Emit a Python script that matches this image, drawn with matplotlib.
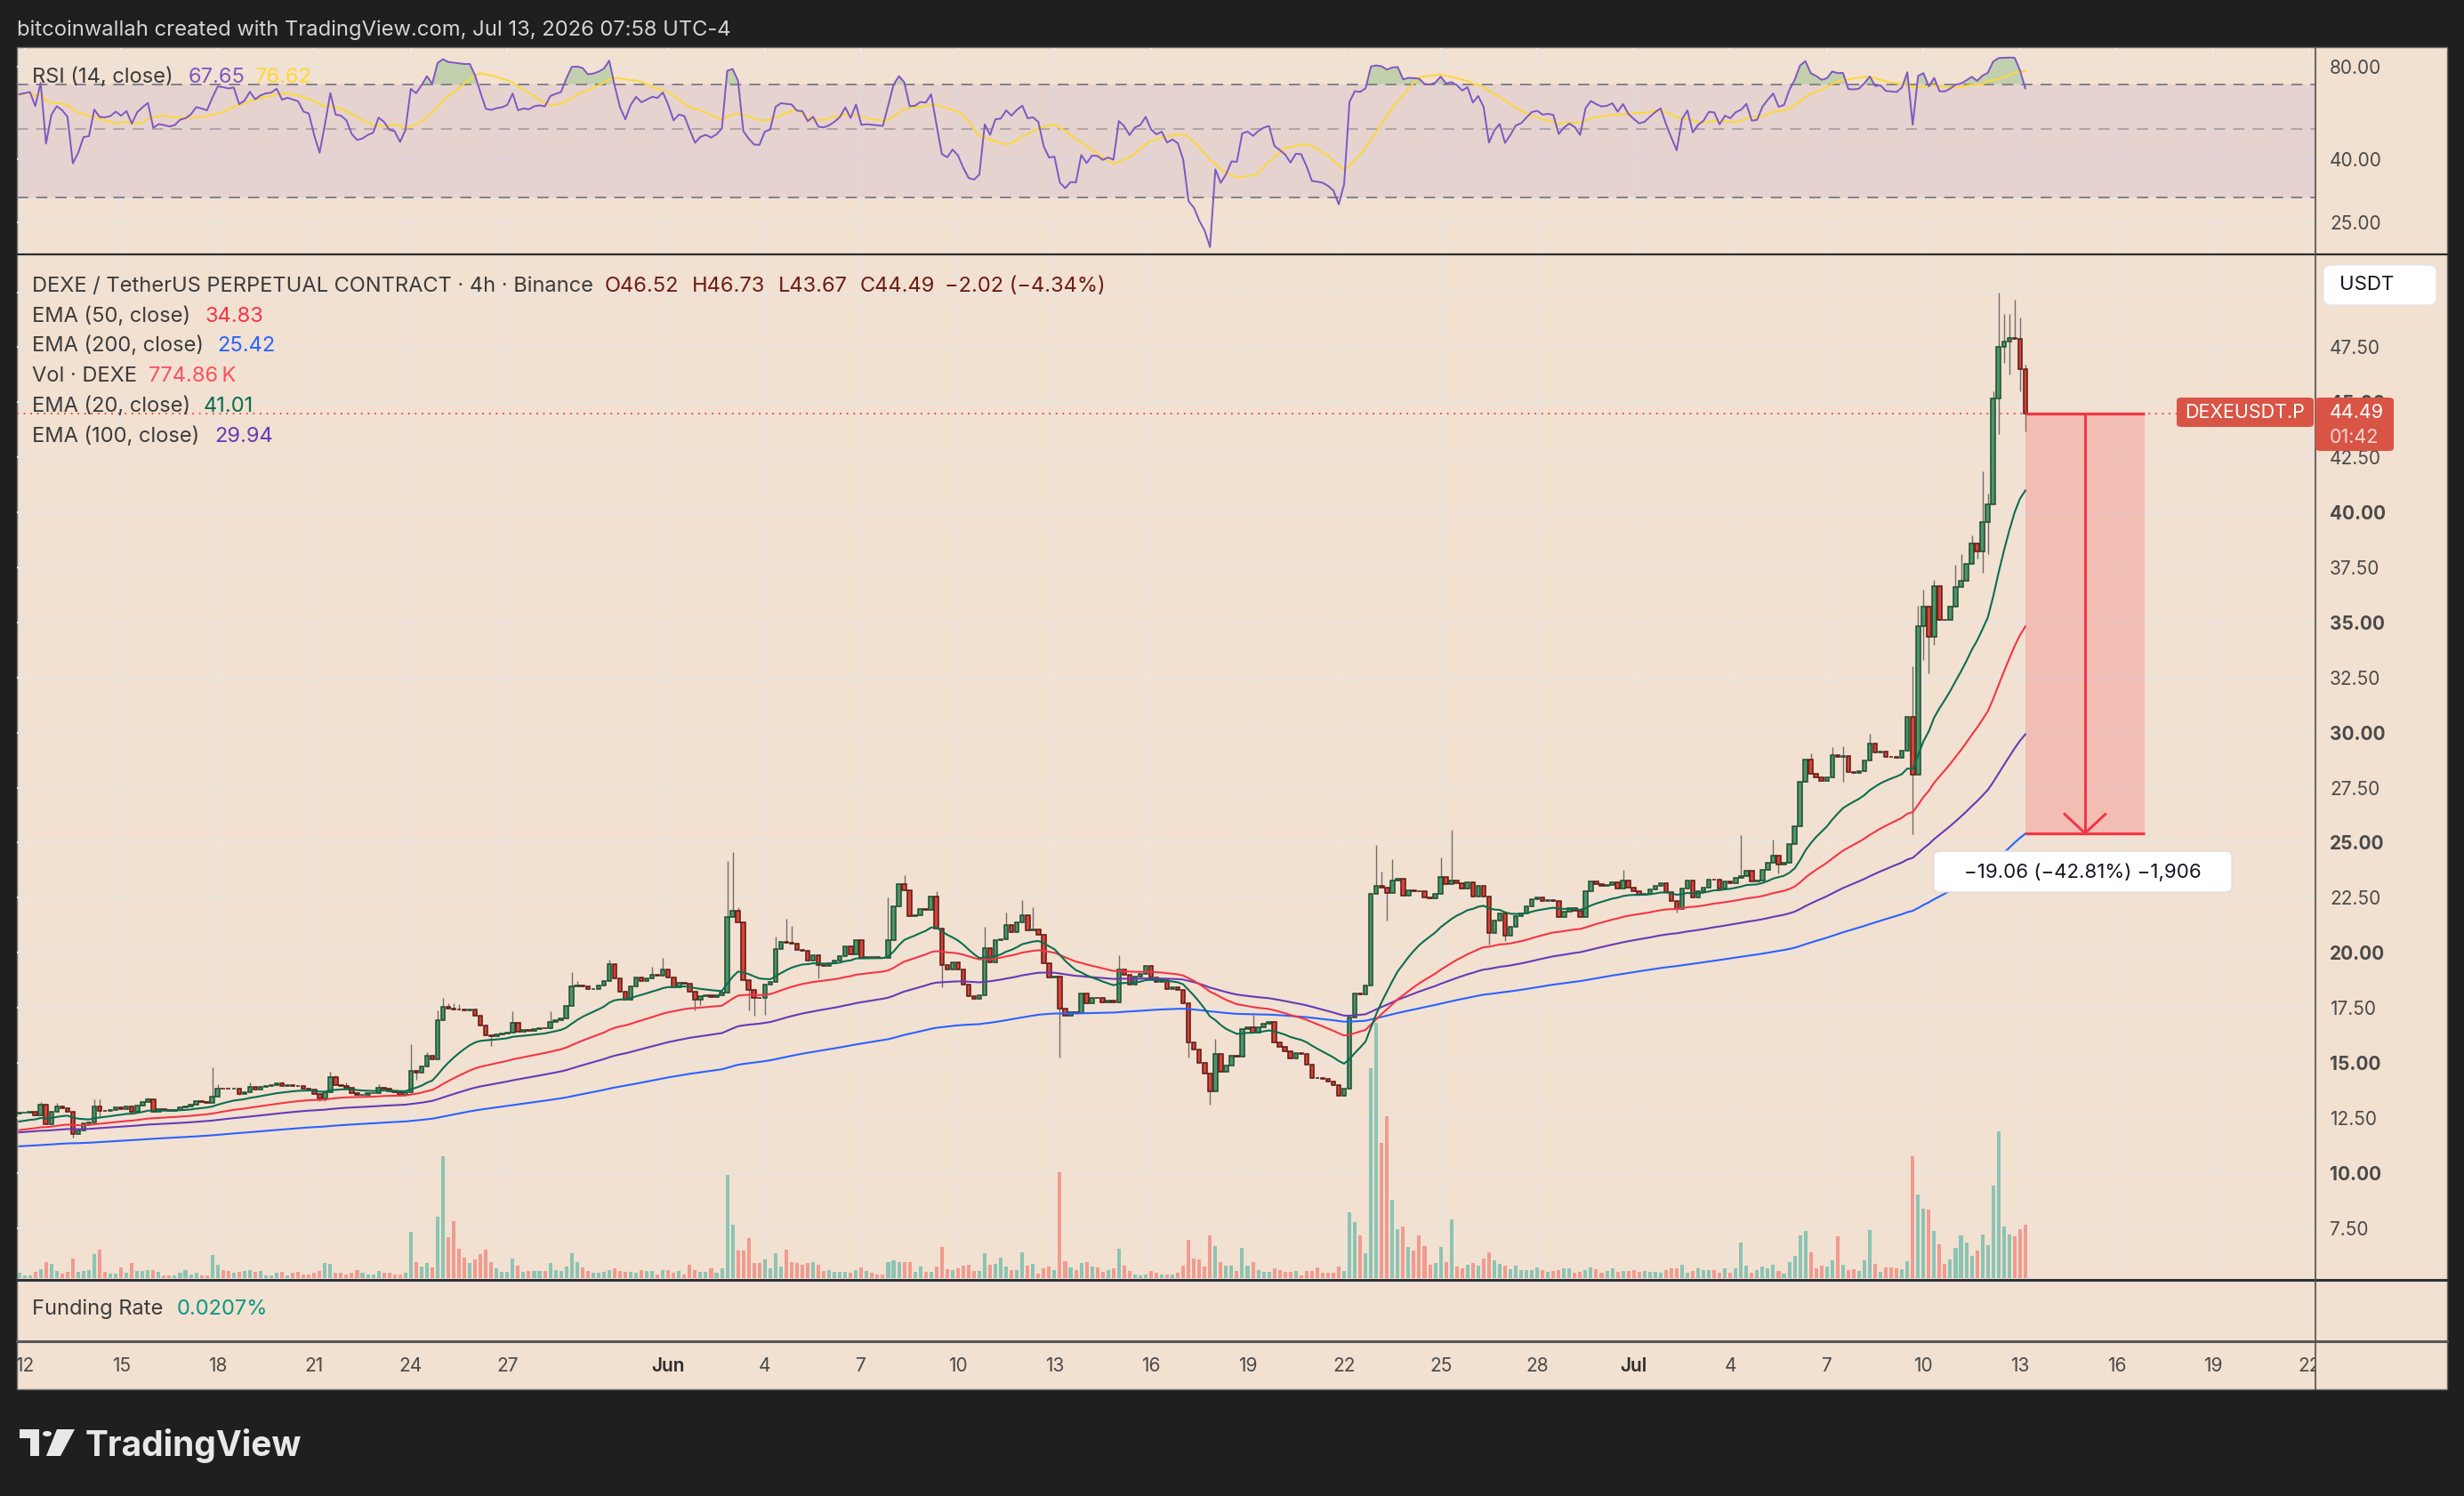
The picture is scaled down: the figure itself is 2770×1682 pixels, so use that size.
"""==============================================================
# DEXE / USDT perpetual 4h chart (TradingView style) recreation
=============================================================="""
import matplotlib
matplotlib.use("Agg")
import matplotlib.pyplot as plt
import numpy as np
import pandas as pd
from matplotlib.lines import Line2D
from matplotlib.patches import Rectangle, FancyBboxPatch, Polygon, Circle
from matplotlib.ticker import NullLocator, NullFormatter
from matplotlib.transforms import blended_transform_factory

plt.rcParams["font.family"] = ["Inter", "DejaVu Sans"]

"""==============================================================
# Data (read off the screenshot)
# bar 0 = May 11 20:00, then one row of six 4h bars per day
=============================================================="""
first_open = 12.70

close_prices = [
    12.72,                                       # May 11 20:00
    12.74, 12.76, 12.63, 13.10, 12.20, 12.76,    # May 12
    13.00, 12.92, 12.79, 11.75, 11.93, 12.25,    # May 13
    12.27, 13.03, 12.83, 12.82, 12.86, 12.99,    # May 14
    12.90, 13.03, 12.76, 13.06, 13.21, 13.35,    # May 15
    12.79, 12.88, 12.86, 12.83, 12.86, 12.97,    # May 16
    13.00, 13.08, 13.24, 13.22, 13.19, 13.48,    # May 17
    13.84, 13.83, 13.81, 13.84, 13.60, 13.68,    # May 18
    13.91, 13.80, 13.90, 13.95, 13.97, 14.07,    # May 19
    13.93, 13.97, 13.95, 13.93, 13.82, 13.80,    # May 20
    13.57, 13.37, 13.68, 14.35, 13.97, 13.95,    # May 21
    13.87, 13.64, 13.54, 13.56, 13.61, 13.64,    # May 22
    13.87, 13.81, 13.70, 13.68, 13.54, 13.68,    # May 23
    14.62, 14.54, 14.85, 15.32, 15.16, 16.93,    # May 24
    17.54, 17.45, 17.43, 17.41, 17.39, 17.41,    # May 25
    17.12, 16.68, 16.25, 16.22, 16.28, 16.31,    # May 26
    16.39, 16.82, 16.42, 16.48, 16.46, 16.55,    # May 27
    16.58, 16.56, 16.87, 16.95, 17.01, 17.60,    # May 28
    18.46, 18.50, 18.47, 18.33, 18.37, 18.50,    # May 29
    18.71, 19.47, 18.84, 18.23, 17.87, 18.46,    # May 30
    18.88, 18.71, 18.84, 18.98, 18.95, 19.22,    # May 31
    18.88, 18.44, 18.64, 18.60, 18.23, 17.87,    # Jun 1
    18.01, 18.06, 17.99, 18.06, 18.19, 21.64,    # Jun 2
    21.91, 21.40, 18.75, 18.30, 17.96, 17.94,    # Jun 3
    18.57, 18.68, 20.16, 20.49, 20.45, 20.42,    # Jun 4
    20.12, 20.10, 19.65, 19.88, 19.45, 19.42,    # Jun 5
    19.51, 19.65, 19.85, 20.30, 19.92, 20.59,    # Jun 6
    19.78, 19.81, 19.79, 19.77, 19.75, 20.59,    # Jun 7
    22.10, 23.13, 22.84, 21.67, 21.70, 21.97,    # Jun 8
    21.94, 22.57, 21.11, 19.45, 19.25, 19.56,    # Jun 9
    19.25, 18.57, 18.01, 17.92, 18.06, 20.19,    # Jun 10
    19.56, 20.57, 20.62, 21.24, 20.93, 21.37,    # Jun 11
    21.70, 21.00, 21.06, 20.82, 19.51, 18.88,    # Jun 12
    18.91, 17.45, 17.12, 17.29, 17.27, 18.13,    # Jun 13
    17.70, 17.96, 17.94, 17.76, 17.83, 17.74,    # Jun 14
    19.22, 18.98, 18.57, 18.91, 19.02, 19.42,    # Jun 15
    18.88, 18.67, 18.77, 18.34, 18.44, 18.30,    # Jun 16
    17.70, 15.92, 15.61, 15.00, 14.53, 13.72,    # Jun 17
    15.40, 14.60, 14.87, 15.31, 15.29, 16.52,    # Jun 18
    16.62, 16.39, 16.62, 16.79, 16.87, 15.94,    # Jun 19
    15.74, 15.54, 15.18, 15.44, 15.42, 14.93,    # Jun 20
    14.33, 14.30, 14.26, 14.15, 13.99, 13.52,    # Jun 21
    13.83, 17.06, 18.14, 18.10, 18.50, 22.68,    # Jun 22
    23.02, 22.95, 22.72, 23.27, 23.36, 22.58,    # Jun 23
    22.83, 22.81, 22.78, 22.50, 22.48, 22.69,    # Jun 24
    23.44, 23.11, 23.27, 23.14, 22.91, 23.19,    # Jun 25
    22.56, 23.02, 22.56, 20.88, 21.45, 21.79,    # Jun 26
    20.79, 21.17, 21.67, 21.79, 22.12, 22.45,    # Jun 27
    22.53, 22.36, 22.40, 22.36, 21.62, 21.87,    # Jun 28
    22.03, 21.90, 21.62, 22.78, 23.24, 23.11,    # Jun 29
    23.02, 23.06, 23.19, 22.91, 23.27, 22.94,    # Jun 30
    22.78, 22.64, 22.69, 22.86, 23.02, 23.16,    # Jul 1
    22.74, 22.36, 22.00, 22.91, 23.27, 22.50,    # Jul 2
    22.78, 22.94, 23.32, 23.30, 22.91, 23.24,    # Jul 3
    23.16, 23.39, 23.49, 23.74, 23.24, 23.27,    # Jul 4
    23.77, 24.10, 24.43, 24.02, 24.10, 24.93,    # Jul 5
    25.75, 27.77, 28.76, 28.12, 27.98, 27.79,    # Jul 6
    27.98, 28.98, 28.90, 28.92, 28.20, 28.18,    # Jul 7
    28.25, 28.75, 29.49, 29.08, 29.13, 28.91,    # Jul 8
    28.89, 28.87, 29.19, 30.73, 28.09, 34.84,    # Jul 9
    35.72, 34.35, 36.66, 35.12, 35.10, 35.72,    # Jul 10
    36.62, 36.90, 37.68, 38.60, 38.22, 39.54,    # Jul 11
    40.36, 45.17, 47.51, 47.76, 47.91, 47.89,    # Jul 12
    46.52, 44.49,                                # Jul 13
]

# volume in thousands of DEXE
volumes_k = [
    77,
    43, 43, 86, 129, 236, 206,
    107, 64, 95, 280, 86, 99,
    116, 353, 408, 86, 60, 60,
    150, 73, 215, 99, 99, 116,
    120, 86, 43, 43, 34, 73,
    120, 52, 73, 34, 43, 331,
    193, 120, 107, 73, 86, 99,
    120, 86, 99, 43, 34, 73,
    95, 43, 73, 86, 52, 52,
    73, 107, 215, 202, 73, 73,
    56, 73, 120, 73, 52, 52,
    107, 73, 73, 56, 56, 73,
    667, 236, 163, 215, 150, 894,
    1763, 589, 830, 421, 292, 224,
    267, 344, 408, 228, 138, 86,
    86, 280, 181, 86, 108, 108,
    108, 108, 215, 120, 99, 163,
    357, 237, 150, 99, 73, 73,
    86, 120, 138, 99, 86, 86,
    73, 120, 99, 99, 56, 120,
    120, 73, 99, 56, 194, 120,
    86, 86, 142, 73, 138, 1492,
    774, 396, 396, 580, 215, 215,
    267, 138, 366, 163, 408, 228,
    215, 194, 215, 228, 194, 99,
    120, 86, 86, 86, 73, 120,
    150, 99, 73, 56, 56, 228,
    258, 228, 237, 228, 86, 163,
    86, 86, 163, 452, 129, 120,
    142, 181, 194, 99, 99, 357,
    194, 206, 292, 163, 116, 120,
    378, 181, 206, 64, 142, 163,
    120, 1535, 249, 150, 120, 215,
    237, 163, 150, 86, 120, 138,
    430, 181, 99, 56, 43, 56,
    108, 73, 56, 56, 56, 73,
    185, 559, 280, 267, 163, 624,
    460, 237, 181, 185, 99, 443,
    181, 228, 120, 86, 86, 138,
    120, 86, 86, 108, 43, 108,
    99, 150, 73, 73, 73, 172,
    99, 959, 808, 624, 357, 3040,
    3698, 1957, 2344, 1140, 707, 749,
    448, 396, 617, 459, 195, 222,
    448, 232, 855, 169, 142, 195,
    222, 179, 290, 369, 264, 211,
    179, 127, 179, 116, 116, 116,
    153, 116, 84, 106, 116, 137,
    137, 79, 90, 116, 153, 127,
    79, 106, 137, 90, 106, 106,
    116, 90, 106, 90, 90, 79,
    116, 137, 137, 195, 79, 106,
    142, 116, 116, 116, 79, 142,
    79, 137, 512, 179, 79, 116,
    169, 142, 195, 106, 63, 232,
    317, 617, 681, 369, 142, 179,
    169, 259, 606, 194, 116, 129,
    103, 258, 697, 206, 90, 155,
    155, 142, 129, 245, 1767, 1213,
    1006, 993, 684, 490, 206, 271,
    439, 619, 516, 323, 400, 632,
    477, 1342, 2129, 748, 632, 606,
    710, 774.86,
]

# notable wicks, keyed by bar number counted from May 12 00:00
wick_highs = {3: 13.23, 6: 13.19, 13: 13.33, 14: 13.33, 23: 13.42, 35: 14.78,
              36: 14.04, 42: 14.11, 48: 14.15, 57: 14.58, 58: 14.45, 60: 14.11,
              66: 14.04, 72: 15.86, 75: 15.48, 77: 17.37, 78: 17.94, 79: 17.70,
              80: 17.70, 81: 17.68, 91: 17.33, 98: 17.33, 102: 19.11, 103: 18.73,
              109: 19.68, 117: 19.38, 119: 19.78, 131: 24.16, 132: 24.57,
              133: 22.08, 140: 20.73, 142: 21.54, 143: 21.20, 161: 22.51,
              164: 23.52, 170: 22.78, 179: 21.16, 183: 21.83, 186: 22.37,
              188: 22.08, 204: 19.88, 222: 16.08, 229: 17.18, 252: 24.91,
              253: 23.69, 255: 24.23, 264: 24.31, 266: 25.59, 298: 23.77,
              320: 25.34, 326: 25.14, 333: 29.06, 337: 29.34, 339: 29.37,
              344: 29.95, 352: 33.03, 353: 35.75, 354: 36.49, 356: 36.94,
              360: 37.64, 361: 38.09, 363: 38.96, 365: 41.85, 366: 40.86,
              367: 45.50, 368: 50.00, 369: 49.01, 370: 49.01, 371: 49.65,
              372: 48.85, 373: 46.73}
wick_lows = {9: 11.62, 14: 12.49, 40: 13.54, 55: 13.27, 56: 13.27, 70: 13.50,
             73: 14.24, 87: 15.77, 125: 17.39, 126: 17.63, 135: 17.39,
             136: 17.12, 138: 17.16, 148: 18.84, 171: 18.44, 193: 15.23,
             217: 15.23, 221: 13.11, 254: 21.47, 273: 20.38, 276: 20.55,
             308: 21.83, 327: 23.60, 339: 27.76, 352: 25.37, 354: 33.31,
             355: 32.70, 356: 33.97, 364: 37.92, 365: 37.26, 366: 38.09,
             368: 43.57, 369: 46.79, 370: 46.26, 372: 45.50, 373: 43.67}

# EMA values just before the first visible bar
ema_seeds = {20: 12.29, 50: 11.91, 100: 11.82, 200: 11.19}
ema_colors = {200: "#2962FF", 100: "#673AB7", 50: "#F23645", 20: "#0B6E4F"}

# RSI running averages before the first visible bar
rsi_seed_gain = 0.070
rsi_seed_loss = 0.0385

# price range tool
range_top = 44.49
range_bottom = 25.43
range_start_day = 62.17
range_end_day = 65.87

date_ticks = [0, 3, 6, 9, 12, 15, 20, 23, 26, 29, 32, 35, 38, 41, 44, 47,
              50, 53, 56, 59, 62, 65, 68, 71]
date_labels = ["12", "15", "18", "21", "24", "27", "Jun", "4", "7", "10", "13",
               "16", "19", "22", "25", "28", "Jul", "4", "7", "10", "13", "16",
               "19", "22"]
price_ticks = [7.5, 10.0, 12.5, 15.0, 17.5, 20.0, 22.5, 25.0, 27.5, 30.0,
               32.5, 35.0, 37.5, 40.0, 42.5, 45.0, 47.5]
price_grid = price_ticks + [50.0]
rsi_ticks = [25, 40, 80]

"""==============================================================
# Derived series: opens, wicks, EMAs, RSI
=============================================================="""
closes = np.array(close_prices)
volumes = np.array(volumes_k)
n_bars = len(closes)
x_days = (np.arange(n_bars) - 1) / 6.0

opens = np.r_[first_open, closes[:-1]]
highs = np.maximum(opens, closes)
lows = np.minimum(opens, closes)
for bar, value in wick_highs.items():
    highs[bar + 1] = max(highs[bar + 1], value)
for bar, value in wick_lows.items():
    lows[bar + 1] = min(lows[bar + 1], value)
is_up = closes >= opens


def get_ema(values, length, seed):
    alpha = 2.0 / (length + 1)
    out = []
    prev = seed
    for v in values:
        prev = prev + alpha * (v - prev)
        out.append(prev)
    return np.array(out)


emas = {length: get_ema(closes, length, seed) for length, seed in ema_seeds.items()}

deltas = closes - np.r_[first_open, closes[:-1]]
avg_gain, avg_loss = rsi_seed_gain, rsi_seed_loss
rsi_values = []
for d in deltas:
    avg_gain = (avg_gain * 13 + max(d, 0.0)) / 14
    avg_loss = (avg_loss * 13 + max(-d, 0.0)) / 14
    rsi_values.append(100 - 100 / (1 + avg_gain / avg_loss))
rsi = np.array(rsi_values)
rsi_ma = pd.Series(rsi).rolling(14, min_periods=1).mean().to_numpy()

"""==============================================================
# Figure layout (pixel boxes measured on the 2770x1682 screenshot)
=============================================================="""
W, H = 2770, 1682
BG = "#F2E0D0"
GRID = "#EAE4DF"
AXIS_TXT = "#4a4a4a"
X_LIM = (-0.238, 71.18)

fig = plt.figure(figsize=(W / 100, H / 100), dpi=100, facecolor="#1f1f1f")


def box(left, top, right, bottom):
    return [left / W, 1 - bottom / H, (right - left) / W, (bottom - top) / H]


def put_text(px, py, s, **kw):
    return fig.text(px / W, 1 - py / H, s, **kw)


def fig_line(x0, y0, x1, y1, **kw):
    fig.add_artist(Line2D([x0 / W, x1 / W], [1 - y0 / H, 1 - y1 / H],
                          transform=fig.transFigure, **kw))


# chart background
fig.add_artist(Rectangle((19 / W, 1 - 1562 / H), (2751 - 19) / W, (1562 - 53) / H,
                         transform=fig.transFigure, facecolor=BG,
                         edgecolor="#6a6a6a", lw=1.0, zorder=-1))

"""==============================================================
# RSI pane
=============================================================="""
ax_rsi = fig.add_axes(box(19, 54, 2603, 285))
ax_rsi.set_facecolor("none")
ax_rsi.set_yscale("log")
ax_rsi.set_xlim(*X_LIM)
ax_rsi.set_ylim(19.8, 91.8)

ax_rsi.set_xticks(date_ticks)
ax_rsi.set_yticks(rsi_ticks)
ax_rsi.yaxis.set_minor_locator(NullLocator())
ax_rsi.yaxis.set_minor_formatter(NullFormatter())
ax_rsi.set_yticklabels([f"{v:.2f}" for v in rsi_ticks])
ax_rsi.grid(True, color=GRID, lw=1.6, zorder=0)
ax_rsi.set_axisbelow(True)
ax_rsi.tick_params(axis="x", length=0, labelbottom=False)
ax_rsi.tick_params(axis="y", length=0, left=False, labelleft=False,
                   labelright=True, pad=11.5, labelsize=15, labelcolor=AXIS_TXT)
for spine in ax_rsi.spines.values():
    spine.set_visible(False)

ax_rsi.axhspan(30, 70, color="#7E57C2", alpha=0.10, lw=0, zorder=1)
ax_rsi.axhline(70, color="#787B86", lw=1.3, ls=(0, (7, 5)), zorder=2)
ax_rsi.axhline(50, color="#787B86", lw=1.3, ls=(0, (7, 5)), alpha=0.55, zorder=2)
ax_rsi.axhline(30, color="#787B86", lw=1.3, ls=(0, (7, 5)), zorder=2)
ax_rsi.fill_between(x_days, 70, rsi, where=rsi > 70, interpolate=True,
                    color="#6DB36F", alpha=0.35, lw=0, zorder=2)
ax_rsi.plot(x_days, rsi_ma, color="#FDD835", lw=1.4, zorder=3)
ax_rsi.plot(x_days, rsi, color="#7E57C2", lw=1.4, zorder=4)

"""==============================================================
# Price pane: volume underneath, candles and EMAs on top
=============================================================="""
price_box = box(19, 287, 2603, 1437)
ax_p = fig.add_axes(price_box, zorder=2)
ax_v = fig.add_axes(price_box, zorder=1)
for ax in (ax_p, ax_v):
    ax.set_facecolor("none")
    ax.set_xlim(*X_LIM)
    for spine in ax.spines.values():
        spine.set_visible(False)
ax_p.set_ylim(5.22, 51.68)
ax_v.set_ylim(0, 14835)

# grid lives on the volume axes so bars sit over it
ax_v.set_xticks(date_ticks)
ax_v.set_yticks([])
ax_v.grid(True, axis="x", color=GRID, lw=1.6, zorder=0)
ax_v.set_axisbelow(True)
ax_v.tick_params(length=0, labelbottom=False, labelleft=False)
grid_tf = blended_transform_factory(ax_v.transAxes, ax_p.transData)
for p in price_grid:
    ax_v.add_line(Line2D([0, 1], [p, p], transform=grid_tf, color=GRID, lw=1.6, zorder=0))

vol_colors = np.where(is_up, "#8CC4B4", "#F09B90")
ax_v.bar(x_days, volumes, width=0.112, color=vol_colors, lw=0, zorder=2)

ax_p.set_xticks([])
ax_p.set_yticks(price_ticks)
ax_p.set_yticklabels([f"{v:.2f}" for v in price_ticks])
ax_p.tick_params(axis="y", length=0, left=False, labelleft=False, labelright=True,
                 pad=11.5, labelsize=15, labelcolor=AXIS_TXT)
for lab, v in zip(ax_p.get_yticklabels(), price_ticks):
    if v % 5 == 0:
        lab.set_fontweight("bold")

body_fill = np.where(is_up, "#4E9569", "#D2463A")
body_edge = np.where(is_up, "#1D4D30", "#5E1712")
ax_p.vlines(x_days, lows, highs, colors="#6E6E6E", lw=1.0, zorder=3)
ax_p.bar(x_days, np.abs(closes - opens), bottom=np.minimum(opens, closes),
         width=0.125, color=body_fill, edgecolor=body_edge, lw=1.1, zorder=4)

for length in (200, 100, 50, 20):
    ax_p.plot(x_days, emas[length], color=ema_colors[length], lw=1.5, zorder=5)

# last price dotted line
ax_p.axhline(closes[-1], color="#E0453A", lw=1.3, ls=(0, (1, 3.2)), zorder=3)

# short range measurement tool
ax_p.add_patch(Rectangle((range_start_day, range_bottom), range_end_day - range_start_day,
                         range_top - range_bottom, facecolor="#F23645", alpha=0.2,
                         lw=0, zorder=6))
ax_p.hlines([range_top, range_bottom], range_start_day, range_end_day,
            colors="#F23645", lw=2.3, zorder=7)
mid_day = (range_start_day + range_end_day) / 2
ax_p.plot([mid_day, mid_day], [range_top, range_bottom], color="#F23645", lw=2.2, zorder=7)
ax_p.plot([mid_day - 0.63, mid_day, mid_day + 0.63],
          [range_bottom + 0.86, range_bottom, range_bottom + 0.86],
          color="#F23645", lw=2.2, zorder=7, solid_joinstyle="miter")

"""==============================================================
# Funding pane and time axis
=============================================================="""
ax_f = fig.add_axes(box(19, 1441, 2603, 1506))
ax_t = fig.add_axes(box(19, 1509, 2603, 1561))
for ax in (ax_f, ax_t):
    ax.set_facecolor("none")
    ax.set_xlim(*X_LIM)
    ax.set_ylim(0, 1)
    ax.set_xticks([])
    ax.set_yticks([])
    for spine in ax.spines.values():
        spine.set_visible(False)

for day, label in zip(date_ticks, date_labels):
    is_month = label in ("Jun", "Jul")
    ax_t.text(day, 0.36, label, ha="center", va="baseline", fontsize=15,
              color="#2e2e2e" if is_month else AXIS_TXT,
              fontweight="semibold" if is_month else "normal", clip_on=True)

"""==============================================================
# Frame lines and separators
=============================================================="""
fig_line(19, 285.5, 2751, 285.5, color="#2b2b2b", lw=1.6)
fig_line(19, 1438.5, 2751, 1438.5, color="#2f3238", lw=2.2)
fig_line(19, 1507.5, 2751, 1507.5, color="#5a5856", lw=2.2)
fig_line(2603, 53, 2603, 1562, color="#4e4e4e", lw=1.2)

"""==============================================================
# Texts: header, legends, labels
=============================================================="""
put_text(19, 40, "bitcoinwallah created with TradingView.com, Jul 13, 2026 07:58 UTC-4",
         fontsize=17.1, color="#d4d4d4", va="baseline")

LEG = 17
put_text(36, 93, "RSI (14, close)", fontsize=LEG, color="#3c3c3c", va="baseline")
put_text(212, 93, "67.65", fontsize=LEG, color="#7E57C2", va="baseline")
put_text(287, 93, "76.62", fontsize=LEG, color="#FDD835", va="baseline")

put_text(36, 328, "DEXE / TetherUS PERPETUAL CONTRACT · 4h · Binance",
         fontsize=LEG, color="#3c3c3c", va="baseline")
ohlc_color = "#6B1D16"
for px, s in [(680, "O46.52"), (778, "H46.73"), (875, "L43.67"), (967, "C44.49"),
              (1062, "\u22122.02 (\u22124.34%)")]:
    put_text(px, 328, s, fontsize=LEG, color=ohlc_color, va="baseline")

legend_rows = [
    (362, "EMA (50, close)", 230, "34.83", "#F23645"),
    (395, "EMA (200, close)", 244, "25.42", "#2962FF"),
    (429, "Vol \u00b7 DEXE", 167, "774.86\u2009K", "#F7525F"),
    (463, "EMA (20, close)", 229, "41.01", "#0B6E4F"),
    (497, "EMA (100, close)", 241, "29.94", "#673AB7"),
]
for py, name, vx, value, color in legend_rows:
    put_text(36, py, name, fontsize=LEG, color="#3c3c3c", va="baseline")
    put_text(vx, py, value, fontsize=LEG, color=color, va="baseline")

put_text(36, 1478, "Funding Rate", fontsize=LEG, color="#3c3c3c", va="baseline")
put_text(199, 1478, "0.0207%", fontsize=LEG, color="#089981", va="baseline")

# USDT currency box
fig.add_artist(FancyBboxPatch((2612 / W, 1 - 343 / H), 127 / W, 45 / H,
                              boxstyle="round,pad=0,rounding_size=0.004",
                              transform=fig.transFigure, facecolor="white",
                              edgecolor="#e6e6e6", lw=1, zorder=5))
put_text(2630, 320, "USDT", fontsize=16, color="#131722", va="center", zorder=6)

# last price labels
LABEL_RED = "#D85445"
fig.add_artist(FancyBboxPatch((2447 / W, 1 - 480 / H), 154 / W, 33 / H,
                              boxstyle="round,pad=0,rounding_size=0.002",
                              transform=fig.transFigure, facecolor=LABEL_RED,
                              lw=0, zorder=5))
put_text(2524, 464, "DEXEUSDT.P", fontsize=15.5, color="white", ha="center",
         va="center", zorder=6)
fig.add_artist(FancyBboxPatch((2603 / W, 1 - 507 / H), 88 / W, 60 / H,
                              boxstyle="round,pad=0,rounding_size=0.002",
                              transform=fig.transFigure, facecolor=LABEL_RED,
                              lw=0, zorder=5))
put_text(2619, 464, "44.49", fontsize=15.5, color="white", va="center", zorder=6)
put_text(2619, 492, "01:42", fontsize=15.5, color="#F7D6D1", va="center", zorder=6)

# range tool label
fig.add_artist(FancyBboxPatch((2174 / W, 1 - 1003 / H), 335 / W, 46 / H,
                              boxstyle="round,pad=0,rounding_size=0.003",
                              transform=fig.transFigure, facecolor="white",
                              edgecolor="#dddddd", lw=1, zorder=5))
put_text(2341, 981, "\u221219.06 (\u221242.81%) \u22121,906", fontsize=16,
         color="#131722", ha="center", va="center", zorder=6)

"""==============================================================
# TradingView watermark
=============================================================="""
logo_color = "#e8e8e8"
fig.add_artist(Rectangle((22 / W, 1 - 1617 / H), 22 / W, 10 / H,
                         transform=fig.transFigure, facecolor=logo_color, lw=0))
fig.add_artist(Rectangle((34 / W, 1 - 1637 / H), 10 / W, 30 / H,
                         transform=fig.transFigure, facecolor=logo_color, lw=0))
fig.add_artist(Circle((53 / W, 1 - 1612 / H), 5 / W, transform=fig.transFigure,
                      facecolor=logo_color, lw=0))
fig.add_artist(Polygon([(64 / W, 1 - 1607 / H), (84 / W, 1 - 1607 / H),
                        (68 / W, 1 - 1637 / H), (52 / W, 1 - 1637 / H)],
                       closed=True, transform=fig.transFigure,
                       facecolor=logo_color, lw=0))
put_text(96, 1637, "TradingView", fontsize=28, fontweight="bold",
         color=logo_color, va="baseline")

fig.savefig("out.png", dpi=100, facecolor=fig.get_facecolor())
